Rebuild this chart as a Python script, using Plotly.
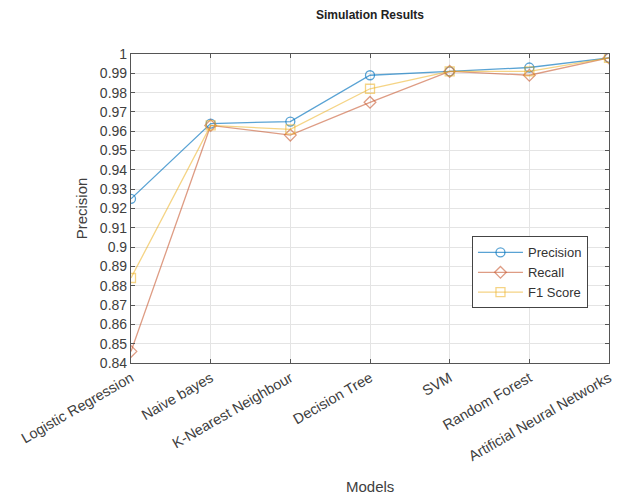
import plotly.graph_objects as go

models = ["Logistic Regression", "Naive bayes", "K-Nearest Neighbour", "Decision Tree",
          "SVM", "Random Forest", "Artificial Neural Networks"]
precision = [0.925, 0.964, 0.965, 0.989, 0.991, 0.993, 0.998]
recall = [0.846, 0.963, 0.958, 0.975, 0.991, 0.989, 0.998]
f1_score = [0.884, 0.963, 0.961, 0.982, 0.991, 0.991, 0.998]
y_ticks = [round(0.84 + 0.01 * i, 2) for i in range(17)]
y_ticktext = [("1" if v == 1 else ("%g" % v)) for v in y_ticks]

fig = go.Figure()
series = [
    ("Precision", precision, "rgba(0,114,189,0.65)", "circle-open"),
    ("Recall", recall, "rgba(200,90,50,0.6)", "diamond-open"),
    ("F1 Score", f1_score, "rgba(237,177,32,0.55)", "square-open"),
]
for name, vals, col, sym in series:
    fig.add_trace(go.Scatter(
        x=models, y=vals, name=name, mode="lines+markers",
        line=dict(color=col, width=1.3),
        marker=dict(symbol=sym, size=9, color=col, line=dict(color=col, width=1.3)),
    ))

fam = "Liberation Sans, Arial, sans-serif"
fig.update_layout(
    width=608, height=490,
    margin=dict(l=123, r=7, t=46, b=135),
    paper_bgcolor="white", plot_bgcolor="white",
    font=dict(family=fam, size=14, color="#404040"),
    title=dict(text="<b>Simulation Results</b>", x=0.5, xanchor="center",
               xref="paper", y=0.9855, yanchor="middle",
               font=dict(family=fam, size=12, color="#222")),
    xaxis=dict(
        type="category", range=[0, 6], tickangle=-30, automargin=False,
        showgrid=True, gridcolor="#e4e4e4", gridwidth=1,
        showline=True, linecolor="#555", linewidth=1.2, mirror="ticks",
        ticks="inside", ticklen=4, tickcolor="#555",
        tickfont=dict(size=14.5, color="#404040"),
        zeroline=False,
    ),
    yaxis=dict(
        range=[0.84, 1.0], tickvals=y_ticks, ticktext=y_ticktext, automargin=False,
        showgrid=True, gridcolor="#e4e4e4", gridwidth=1,
        showline=True, linecolor="#555", linewidth=1.2, mirror="ticks",
        ticks="inside", ticklen=4, tickcolor="#555",
        tickfont=dict(size=14, color="#404040"),
        title=dict(text="Precision", font=dict(size=15, color="#404040"), standoff=8),
        zeroline=False,
    ),
    annotations=[dict(
        text="Models", xref="paper", yref="paper", x=0.5, y=-0.401,
        xanchor="center", yanchor="middle", showarrow=False,
        font=dict(family=fam, size=15, color="#404040"),
    )],
    legend=dict(
        x=0.956, y=0.293, xanchor="right", yanchor="middle",
        bgcolor="white", bordercolor="#444", borderwidth=1,
        font=dict(size=13, color="#333"), tracegroupgap=0, itemwidth=45,
    ),
    showlegend=True,
)
fig.write_html("out.html")
